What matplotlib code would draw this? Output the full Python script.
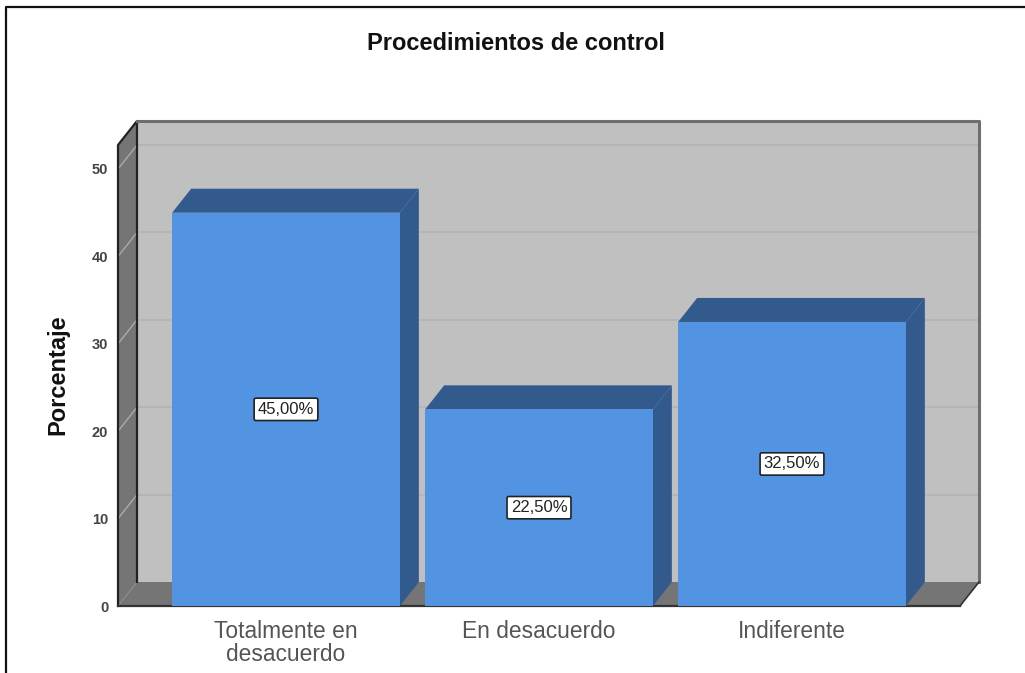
import matplotlib
matplotlib.use('Agg')
import matplotlib.pyplot as plt
from matplotlib.patches import Polygon

categories = ['Totalmente en\ndesacuerdo', 'En desacuerdo', 'Indiferente']
values = [45.0, 22.5, 32.5]
value_labels = ['45,00%', '22,50%', '32,50%']
y_ticks = [0, 10, 20, 30, 40, 50]

W, H = 1025, 673
plt.rcParams['font.family'] = ['Liberation Sans', 'DejaVu Sans']

fig = plt.figure(figsize=(W / 100, H / 100), dpi=100)

# ejes = plano frontal del grafico, en pixeles de la imagen
left, right, bottom, top = 118, 960, 606, 145
px_per_unit = 8.74
ax = fig.add_axes([left / W, 1 - bottom / H, (right - left) / W, (bottom - top) / H])
ax.set_xlim((left - 286) / 253, (right - 286) / 253)
ax.set_ylim(0, (bottom - top) / px_per_unit)
ax.patch.set_visible(False)
for s in ax.spines.values():
    s.set_visible(False)

x0, x1 = ax.get_xlim()
y0, y1 = ax.get_ylim()
# profundidad 3D en unidades de datos
dx = 19 / 253
dy = 24 / px_per_unit
bar_w = 0.9
wall = '#c0c0c0'
dark = '#757575'
blue = '#5294e2'
blue_dark = '#325a8c'

# pared del fondo, pared izquierda y piso
ax.add_patch(Polygon([(x0 + dx, y0 + dy), (x1 + dx, y0 + dy), (x1 + dx, y1 + dy), (x0 + dx, y1 + dy)],
                     fc=wall, ec='none', clip_on=False, zorder=1))
ax.add_patch(Polygon([(x0, y0), (x0 + dx, y0 + dy), (x0 + dx, y1 + dy), (x0, y1)],
                     fc=dark, ec='none', clip_on=False, zorder=1))
ax.add_patch(Polygon([(x0, y0), (x1, y0), (x1 + dx, y0 + dy), (x0 + dx, y0 + dy)],
                     fc=dark, ec='none', clip_on=False, zorder=1))

# lineas de cuadricula
for t in y_ticks[1:]:
    ax.plot([x0 + dx, x1 + dx], [t + dy, t + dy], color='#b3b3b3', lw=1.2,
            clip_on=False, zorder=2)
    ax.plot([x0, x0 + dx], [t, t + dy], color='#ababab', lw=1,
            clip_on=False, zorder=2)
ax.plot([x0, x0 + dx], [0, dy], color='#8c8c8c', lw=0.8, clip_on=False, zorder=2)

# bordes
ax.plot([x0, x0, x0 + dx, x0 + dx], [0, y1, y1 + dy, dy], color='#222222', lw=1.6,
        clip_on=False, zorder=3)
ax.plot([x0 + dx, x1 + dx, x1 + dx], [y1 + dy, y1 + dy, dy], color='#6e6e6e', lw=2.2,
        clip_on=False, zorder=3)
ax.plot([x1 + dx, x1], [dy, 0], color='#333333', lw=1.2, clip_on=False, zorder=3)
ax.plot([x0, x1], [0, 0], color='#333333', lw=1.6, clip_on=False, zorder=3)

# barras con cara superior y lateral
xs = list(range(len(categories)))
for i, v in zip(xs, values):
    a, b = i - bar_w / 2, i + bar_w / 2
    ax.add_patch(Polygon([(a, v), (b, v), (b + dx, v + dy), (a + dx, v + dy)],
                         fc=blue_dark, ec='none', zorder=4))
    ax.add_patch(Polygon([(b, 0), (b + dx, dy), (b + dx, v + dy), (b, v)],
                         fc=blue_dark, ec='none', zorder=4))
ax.bar(xs, values, width=bar_w, color=blue, zorder=5)

for i, v, lab in zip(xs, values, value_labels):
    ax.text(i, v / 2, lab, ha='center', va='center', fontsize=12, color='#222222', zorder=6,
            bbox=dict(boxstyle='round,pad=0.22,rounding_size=0.1', fc='white', ec='#222222', lw=1.2))

ax.set_xticks(xs)
ax.set_xticklabels(categories, fontsize=16.4, color='#555555', linespacing=0.98)
ax.set_yticks(y_ticks)
ax.set_yticklabels([str(t) for t in y_ticks], fontsize=10.5, fontweight='bold', color='#444444')
ax.tick_params(axis='both', length=0)
ax.tick_params(axis='x', pad=10)
ax.tick_params(axis='y', pad=7)

fig.text(58 / W, 1 - 375 / H, 'Porcentaje', rotation=90, ha='center', va='center',
         fontsize=17, fontweight='bold', color='#111111')
fig.text(516 / W, 1 - 43 / H, 'Procedimientos de control', ha='center', va='center',
         fontsize=17, fontweight='bold', color='#111111')

# marco de la captura: solo izquierda y arriba
fig.add_artist(plt.Line2D([6 / W, 6 / W, 1], [0, 1 - 7 / H, 1 - 7 / H], color='#111111', lw=1.6))

fig.savefig('out.png', dpi=100)
